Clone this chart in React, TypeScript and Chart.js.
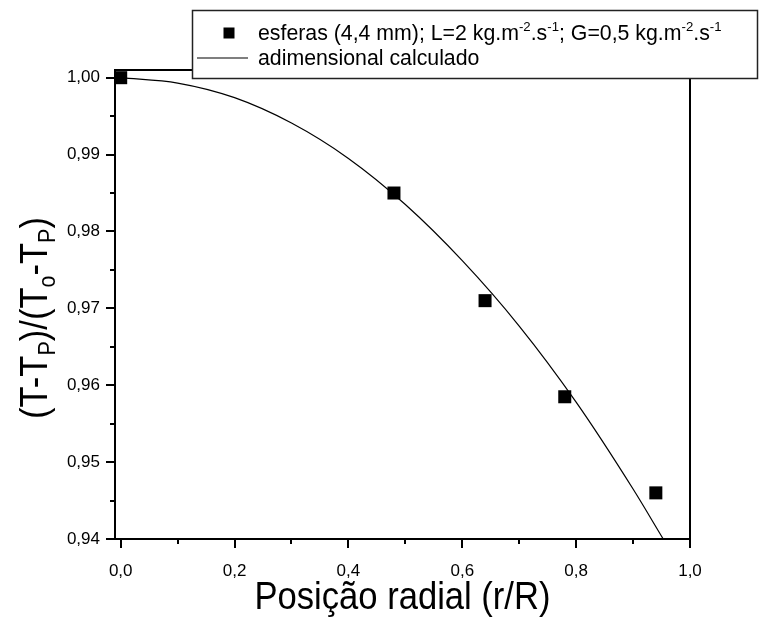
import React, { useEffect, useRef } from 'react';
import { Chart, registerables } from 'chart.js';

Chart.register(...registerables);

// ---- data ----
const pointX = [0, 0.48, 0.64, 0.78, 0.94];
const pointY = [1.0, 0.985, 0.971, 0.9585, 0.946];

const curveX = [0, 0.1, 0.2, 0.3, 0.4, 0.5, 0.6, 0.7, 0.8, 0.9, 0.953];
const curveY = [1.0, 0.9993, 0.9974, 0.9941, 0.9895, 0.9835, 0.9762, 0.9677, 0.9578, 0.9465, 0.94];

const xTicks = [0, 0.2, 0.4, 0.6, 0.8, 1.0];
const yTicks = [0.94, 0.95, 0.96, 0.97, 0.98, 0.99, 1.0];
const xMinor = [0.1, 0.3, 0.5, 0.7, 0.9];
const yMinor = [0.945, 0.955, 0.965, 0.975, 0.985, 0.995];

const seriesPointsLabel = 'esferas (4,4 mm); L=2 kg.m-2.s-1; G=0,5 kg.m-2.s-1';
const seriesCurveLabel = 'adimensional calculado';
const xTitle = 'Posição radial (r/R)';

type Part = { t: string; m: 'n' | 'sup' | 'sub' };
const legendParts: Part[] = [
  { t: 'esferas (4,4 mm); L=2 kg.m', m: 'n' },
  { t: '-2', m: 'sup' },
  { t: '.s', m: 'n' },
  { t: '-1', m: 'sup' },
  { t: '; G=0,5 kg.m', m: 'n' },
  { t: '-2', m: 'sup' },
  { t: '.s', m: 'n' },
  { t: '-1', m: 'sup' },
];
const yTitleParts: Part[] = [
  { t: '(T-T', m: 'n' },
  { t: 'P', m: 'sub' },
  { t: ')/(T', m: 'n' },
  { t: 'o', m: 'sub' },
  { t: '-T', m: 'n' },
  { t: 'P', m: 'sub' },
  { t: ')', m: 'n' },
];

const FONT = "Arial, 'Liberation Sans', sans-serif";

function richWidth(ctx: CanvasRenderingContext2D, parts: Part[], size: number) {
  let w = 0;
  for (const p of parts) {
    const s = p.m === 'n' ? size : size * 0.62;
    ctx.font = `${s}px ${FONT}`;
    w += ctx.measureText(p.t).width;
  }
  return w;
}

function drawRich(ctx: CanvasRenderingContext2D, parts: Part[], x: number, y: number, size: number) {
  let cx = x;
  ctx.textBaseline = 'alphabetic';
  ctx.textAlign = 'left';
  for (const p of parts) {
    const s = p.m === 'n' ? size : size * 0.62;
    ctx.font = `${s}px ${FONT}`;
    const dy = p.m === 'sup' ? -size * 0.42 : p.m === 'sub' ? size * 0.22 : 0;
    ctx.fillText(p.t, cx, y + dy);
    cx += ctx.measureText(p.t).width;
  }
}

const decorPlugin = {
  id: 'decor',
  afterDraw(chart: any) {
    const { ctx, chartArea: a, scales } = chart;
    const xs = scales.x;
    const ys = scales.y;
    ctx.save();
    ctx.strokeStyle = '#000';
    ctx.fillStyle = '#000';
    ctx.lineWidth = 2;
    // frame top + right
    ctx.beginPath();
    ctx.moveTo(a.left - 1, a.top);
    ctx.lineTo(a.right, a.top);
    ctx.lineTo(a.right, a.bottom + 1);
    ctx.stroke();
    // minor ticks
    ctx.beginPath();
    for (const v of xMinor) {
      const px = Math.round(xs.getPixelForValue(v));
      ctx.moveTo(px, a.bottom);
      ctx.lineTo(px, a.bottom + 5);
    }
    for (const v of yMinor) {
      const py = Math.round(ys.getPixelForValue(v));
      ctx.moveTo(a.left, py);
      ctx.lineTo(a.left - 5, py);
    }
    ctx.stroke();

    // legend box
    const bx = 192, by = 10, bw = 565, bh = 68;
    ctx.fillStyle = '#fff';
    ctx.fillRect(bx, by, bw, bh);
    ctx.strokeStyle = '#222';
    ctx.lineWidth = 1.5;
    ctx.strokeRect(bx + 0.5, by + 0.5, bw, bh);
    ctx.fillStyle = '#000';
    ctx.fillRect(229 - 5.5, 33 - 5.5, 11, 11);
    ctx.strokeStyle = '#000';
    ctx.lineWidth = 1.2;
    ctx.beginPath();
    ctx.moveTo(197, 58);
    ctx.lineTo(248, 58);
    ctx.stroke();
    drawRich(ctx, legendParts, 258, 40, 21.3);
    ctx.font = `21.3px ${FONT}`;
    ctx.fillText(seriesCurveLabel, 258, 65);

    // x title
    const tSize = 38, hs = 0.91;
    ctx.save();
    ctx.translate((a.left + a.right) / 2, 599);
    ctx.scale(hs, 1);
    ctx.font = `${tSize}px ${FONT}`;
    ctx.textAlign = 'center';
    ctx.textBaseline = 'middle';
    ctx.fillText(xTitle, 0, 0);
    ctx.restore();

    // y title
    ctx.save();
    ctx.translate(33, 318);
    ctx.rotate(-Math.PI / 2);
    ctx.scale(hs, 1);
    const w = richWidth(ctx, yTitleParts, tSize);
    drawRich(ctx, yTitleParts, -w / 2, tSize * 0.36, tSize);
    ctx.restore();

    ctx.restore();
  },
};

export default function App() {
  const ref = useRef<HTMLCanvasElement>(null);
  useEffect(() => {
    const canvas = ref.current;
    if (!canvas) return;
    const chart = new Chart(canvas, {
      type: 'scatter',
      data: {
        datasets: [
          {
            label: seriesPointsLabel,
            data: pointX.map((x, i) => ({ x, y: pointY[i] })),
            pointStyle: 'rect',
            pointRadius: 9.2,
            pointHoverRadius: 9.2,
            backgroundColor: '#000',
            borderColor: '#000',
            borderWidth: 0,
            showLine: false,
          },
          {
            label: seriesCurveLabel,
            data: curveX.map((x, i) => ({ x, y: curveY[i] })),
            showLine: true,
            pointRadius: 0,
            borderColor: '#000',
            borderWidth: 1.2,
            cubicInterpolationMode: 'monotone',
            fill: false,
          },
        ],
      },
      options: {
        animation: false,
        responsive: false,
        maintainAspectRatio: false,
        events: [],
        layout: { padding: { left: 0, top: 70, right: 73, bottom: 0 } },
        plugins: { legend: { display: false }, tooltip: { enabled: false }, title: { display: false } },
        scales: {
          x: {
            type: 'linear',
            min: -0.01,
            max: 1.0,
            afterBuildTicks: (s: any) => {
              s.ticks = xTicks.map((v) => ({ value: v }));
            },
            afterFit: (s: any) => {
              s.height = 84;
            },
            ticks: {
              color: '#000',
              font: { family: FONT, size: 17 },
              padding: 13,
              maxRotation: 0,
              autoSkip: false,
              callback: (v: any) => Number(v).toFixed(1).replace('.', ','),
            },
            grid: { drawOnChartArea: false, drawTicks: true, tickLength: 9, color: '#000', lineWidth: 2 },
            border: { display: true, color: '#000', width: 2 },
          },
          y: {
            type: 'linear',
            min: 0.94,
            max: 1.001,
            afterBuildTicks: (s: any) => {
              s.ticks = yTicks.map((v) => ({ value: v }));
            },
            afterFit: (s: any) => {
              s.width = 115;
            },
            ticks: {
              color: '#000',
              font: { family: FONT, size: 17 },
              padding: 6,
              autoSkip: false,
              callback: (v: any) => Number(v).toFixed(2).replace('.', ','),
            },
            grid: { drawOnChartArea: false, drawTicks: true, tickLength: 9, color: '#000', lineWidth: 2 },
            border: { display: true, color: '#000', width: 2 },
          },
        },
      },
      plugins: [decorPlugin],
    } as any);
    return () => chart.destroy();
  }, []);
  return (
    <div style={{ position: 'fixed', left: 0, top: 0, width: 763, height: 623, background: '#fff' }}>
      <canvas ref={ref} width={763} height={623} style={{ width: 763, height: 623, display: 'block' }} />
    </div>
  );
}
